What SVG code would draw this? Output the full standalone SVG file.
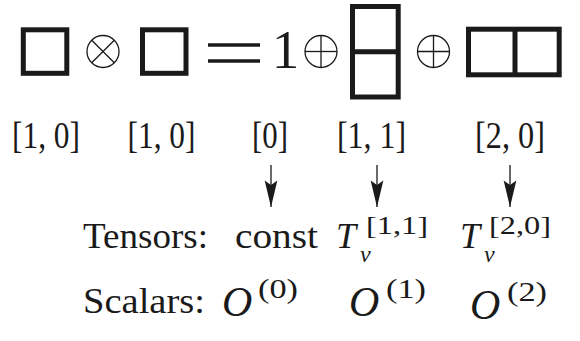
<svg xmlns="http://www.w3.org/2000/svg" width="580" height="341" viewBox="0 0 580 341">
  <style>
    .box { fill: none; stroke: #1a1a1a; stroke-width: 5; }
    .op { fill: none; stroke: #1a1a1a; stroke-width: 1.3; }
    .t { font-family: "Liberation Serif", "Times New Roman", serif; fill: #1a1a1a; }
    .lab { font-size: 37px; text-anchor: middle; }
    .row { font-size: 36px; }
    .sup { font-size: 26px; }
    .psup { font-size: 28px; }
    .sub { font-size: 24px; font-style: italic; }
    .it { font-style: italic; }
    .cal { font-size: 42px; font-style: italic; }
    .arr { stroke: #1a1a1a; stroke-width: 1.3; fill: none; }
  </style>
  <defs>
    <marker id="ah" markerUnits="userSpaceOnUse" markerWidth="30" markerHeight="20" viewBox="-24 -7 26 14" refX="0" refY="0" orient="auto">
      <path d="M0,0 L-23,-5.5 L-19,0 L-23,5.5 Z" fill="#1a1a1a"/>
    </marker>
  </defs>
  <rect width="580" height="341" fill="#ffffff"/>

  <!-- top equation -->
  <g id="box1"><rect class="box" x="23.3" y="29.8" width="43.5" height="43.5"/></g>
  <g id="otimes">
    <circle class="op" cx="103" cy="51.5" r="16"/>
    <line class="op" x1="91.7" y1="40.2" x2="114.3" y2="62.8"/>
    <line class="op" x1="114.3" y1="40.2" x2="91.7" y2="62.8"/>
  </g>
  <g id="box2"><rect class="box" x="142.5" y="29.8" width="43.5" height="43.5"/></g>
  <g id="equals">
    <line x1="208" y1="45" x2="260" y2="45" stroke="#1a1a1a" stroke-width="3.5"/>
    <line x1="208" y1="61" x2="260" y2="61" stroke="#1a1a1a" stroke-width="3.5"/>
  </g>
  <g id="one"><text class="t" x="285.5" y="68" font-size="55" text-anchor="middle">1</text></g>
  <g id="oplus1">
    <circle class="op" cx="321" cy="51.5" r="16"/>
    <line class="op" x1="305" y1="51.5" x2="337" y2="51.5"/>
    <line class="op" x1="321" y1="35.5" x2="321" y2="67.5"/>
  </g>
  <g id="col2">
    <rect class="box" x="352.5" y="6.5" width="45.7" height="90.5"/>
    <line class="box" x1="352.5" y1="51.7" x2="398.2" y2="51.7"/>
  </g>
  <g id="oplus2">
    <circle class="op" cx="433.5" cy="51.5" r="16"/>
    <line class="op" x1="417.5" y1="51.5" x2="449.5" y2="51.5"/>
    <line class="op" x1="433.5" y1="35.5" x2="433.5" y2="67.5"/>
  </g>
  <g id="row2">
    <rect class="box" x="468.5" y="29.2" width="90.7" height="45.6"/>
    <line class="box" x1="515" y1="29.2" x2="515" y2="74.8"/>
  </g>

  <!-- labels -->
  <g id="lab1"><text class="t lab" x="46" y="148" textLength="68" lengthAdjust="spacingAndGlyphs">[1, 0]</text></g>
  <g id="lab2"><text class="t lab" x="161.5" y="148" textLength="68" lengthAdjust="spacingAndGlyphs">[1, 0]</text></g>
  <g id="lab3"><text class="t lab" x="270" y="148" textLength="36" lengthAdjust="spacingAndGlyphs">[0]</text></g>
  <g id="lab4"><text class="t lab" x="371.5" y="148" textLength="69" lengthAdjust="spacingAndGlyphs">[1, 1]</text></g>
  <g id="lab5"><text class="t lab" x="510" y="148" textLength="70" lengthAdjust="spacingAndGlyphs">[2, 0]</text></g>

  <!-- connectors -->
  <g id="connectors">
    <line class="arr" x1="271" y1="165" x2="271" y2="207" marker-end="url(#ah)"/>
    <line class="arr" x1="377" y1="165" x2="377" y2="207" marker-end="url(#ah)"/>
    <line class="arr" x1="510" y1="165" x2="510" y2="207" marker-end="url(#ah)"/>
  </g>

  <!-- Tensors row -->
  <g id="tensors-label"><text class="t row" x="83" y="248" textLength="125" lengthAdjust="spacingAndGlyphs">Tensors:</text></g>
  <g id="const"><text class="t row" x="235" y="248" textLength="83" lengthAdjust="spacingAndGlyphs">const</text></g>
  <g id="T11">
    <text class="t row it" x="336" y="248">T</text>
    <text class="t sub" x="360" y="262">v</text>
    <text class="t sup" x="366" y="234" textLength="62" lengthAdjust="spacingAndGlyphs">[1,1]</text>
  </g>
  <g id="T20">
    <text class="t row it" x="460" y="248">T</text>
    <text class="t sub" x="484" y="262">v</text>
    <text class="t sup" x="489" y="234" textLength="62" lengthAdjust="spacingAndGlyphs">[2,0]</text>
  </g>

  <!-- Scalars row -->
  <g id="scalars-label"><text class="t row" x="83" y="313" textLength="122" lengthAdjust="spacingAndGlyphs">Scalars:</text></g>
  <g id="O0">
    <text class="t cal" x="222" y="316">O</text>
    <text class="t psup" x="258" y="298" textLength="40" lengthAdjust="spacingAndGlyphs">(0)</text>
  </g>
  <g id="O1">
    <text class="t cal" x="349" y="316">O</text>
    <text class="t psup" x="386" y="298" textLength="40" lengthAdjust="spacingAndGlyphs">(1)</text>
  </g>
  <g id="O2">
    <text class="t cal" x="470" y="319">O</text>
    <text class="t psup" x="507" y="301" textLength="40" lengthAdjust="spacingAndGlyphs">(2)</text>
  </g>
</svg>
